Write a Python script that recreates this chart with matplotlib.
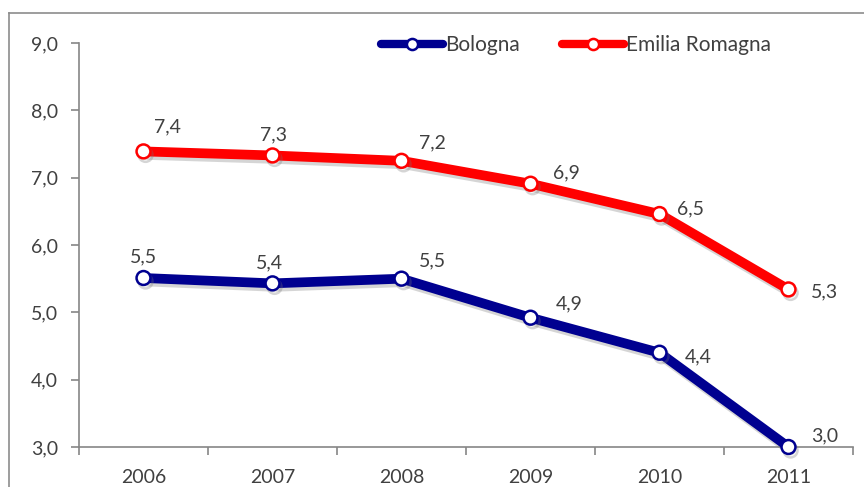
import matplotlib
matplotlib.use("Agg")
import matplotlib.pyplot as plt
import matplotlib.patheffects as pe
from matplotlib.lines import Line2D
import numpy as np

years = ["2006", "2007", "2008", "2009", "2010", "2011"]
bologna = [5.51, 5.43, 5.50, 4.92, 4.40, 3.00]
emilia = [7.39, 7.33, 7.25, 6.91, 6.46, 5.34]
series_names = ["Bologna", "Emilia Romagna"]
yticks = [3.0, 4.0, 5.0, 6.0, 7.0, 8.0, 9.0]

plt.rcParams['font.family'] = ['Lato', 'DejaVu Sans']
txt = '#404040'
gray = '#868686'
FS = 14

fig = plt.figure(figsize=(8.64, 4.87), dpi=100)
ax = fig.add_axes([79/864, 1-447/487, (853-79)/864, (447-43)/487])

# outer frame (partial, as in reference)
fig.add_artist(Line2D([9/864, 9/864], [0, 1-13/487], transform=fig.transFigure, color='#8c8c8c', lw=1.2))
fig.add_artist(Line2D([9/864, 1], [1-13/487, 1-13/487], transform=fig.transFigure, color='#8c8c8c', lw=1.2))

x = np.arange(len(years))
shadow = [pe.SimpleLineShadow(offset=(1.5, -2.5), shadow_color='#777777', alpha=0.3), pe.Normal()]
colors = ['#000090', '#ff0000']
for vals, c, name in zip([bologna, emilia], colors, series_names):
    ax.plot(x, vals, color=c, lw=7, marker='o', ms=10, mfc='white', mec=c, mew=1.8,
            solid_capstyle='round', solid_joinstyle='round', label=name, path_effects=shadow, clip_on=False, zorder=3)

# label offsets (points)
off_e = [(17, 18), (1, 15), (22, 13), (26, 8), (22, 4), (26, -2)]
off_b = [(0, 15), (-2, 15), (22, 13), (28, 10), (28, -3), (26, 8)]
for i in range(len(years)):
    ax.annotate(f"{emilia[i]:.1f}".replace('.', ','), (x[i], emilia[i]), xytext=off_e[i],
                textcoords='offset points', ha='center', va='center', fontsize=FS, color=txt)
    ax.annotate(f"{bologna[i]:.1f}".replace('.', ','), (x[i], bologna[i]), xytext=off_b[i],
                textcoords='offset points', ha='center', va='center', fontsize=FS, color=txt)

ax.set_xlim(-0.5, 5.5)
ax.set_ylim(3.0, 9.0)
ax.set_yticks(yticks)
ax.set_yticklabels([f"{v:.1f}".replace('.', ',') for v in yticks], fontsize=FS, color=txt)
ax.set_xticks(x)
ax.set_xticklabels(years, fontsize=FS, color=txt)
ax.set_xticks(np.arange(-0.5, 6, 1), minor=True)
ax.tick_params(axis='x', which='major', length=0, pad=16)
ax.tick_params(axis='x', which='minor', length=6, color=gray, width=1.2)
ax.tick_params(axis='y', length=6, color=gray, width=1.2, pad=9)
for s in ['top', 'right']:
    ax.spines[s].set_visible(False)
for s in ['left', 'bottom']:
    ax.spines[s].set_color(gray)
    ax.spines[s].set_linewidth(1.2)

leg = ax.legend(loc='center', bbox_to_anchor=((576-79)/774, 1-(45-43)/404), ncol=2, frameon=False,
                fontsize=15, handlelength=3.0, handletextpad=0.1, columnspacing=2.0, markerscale=0.8)
for t in leg.get_texts():
    t.set_color(txt)
for h in leg.legend_handles:
    h.set_path_effects([])
    h.set_linewidth(6)
    h.set_solid_capstyle('round')

fig.savefig('out.png', dpi=100)
